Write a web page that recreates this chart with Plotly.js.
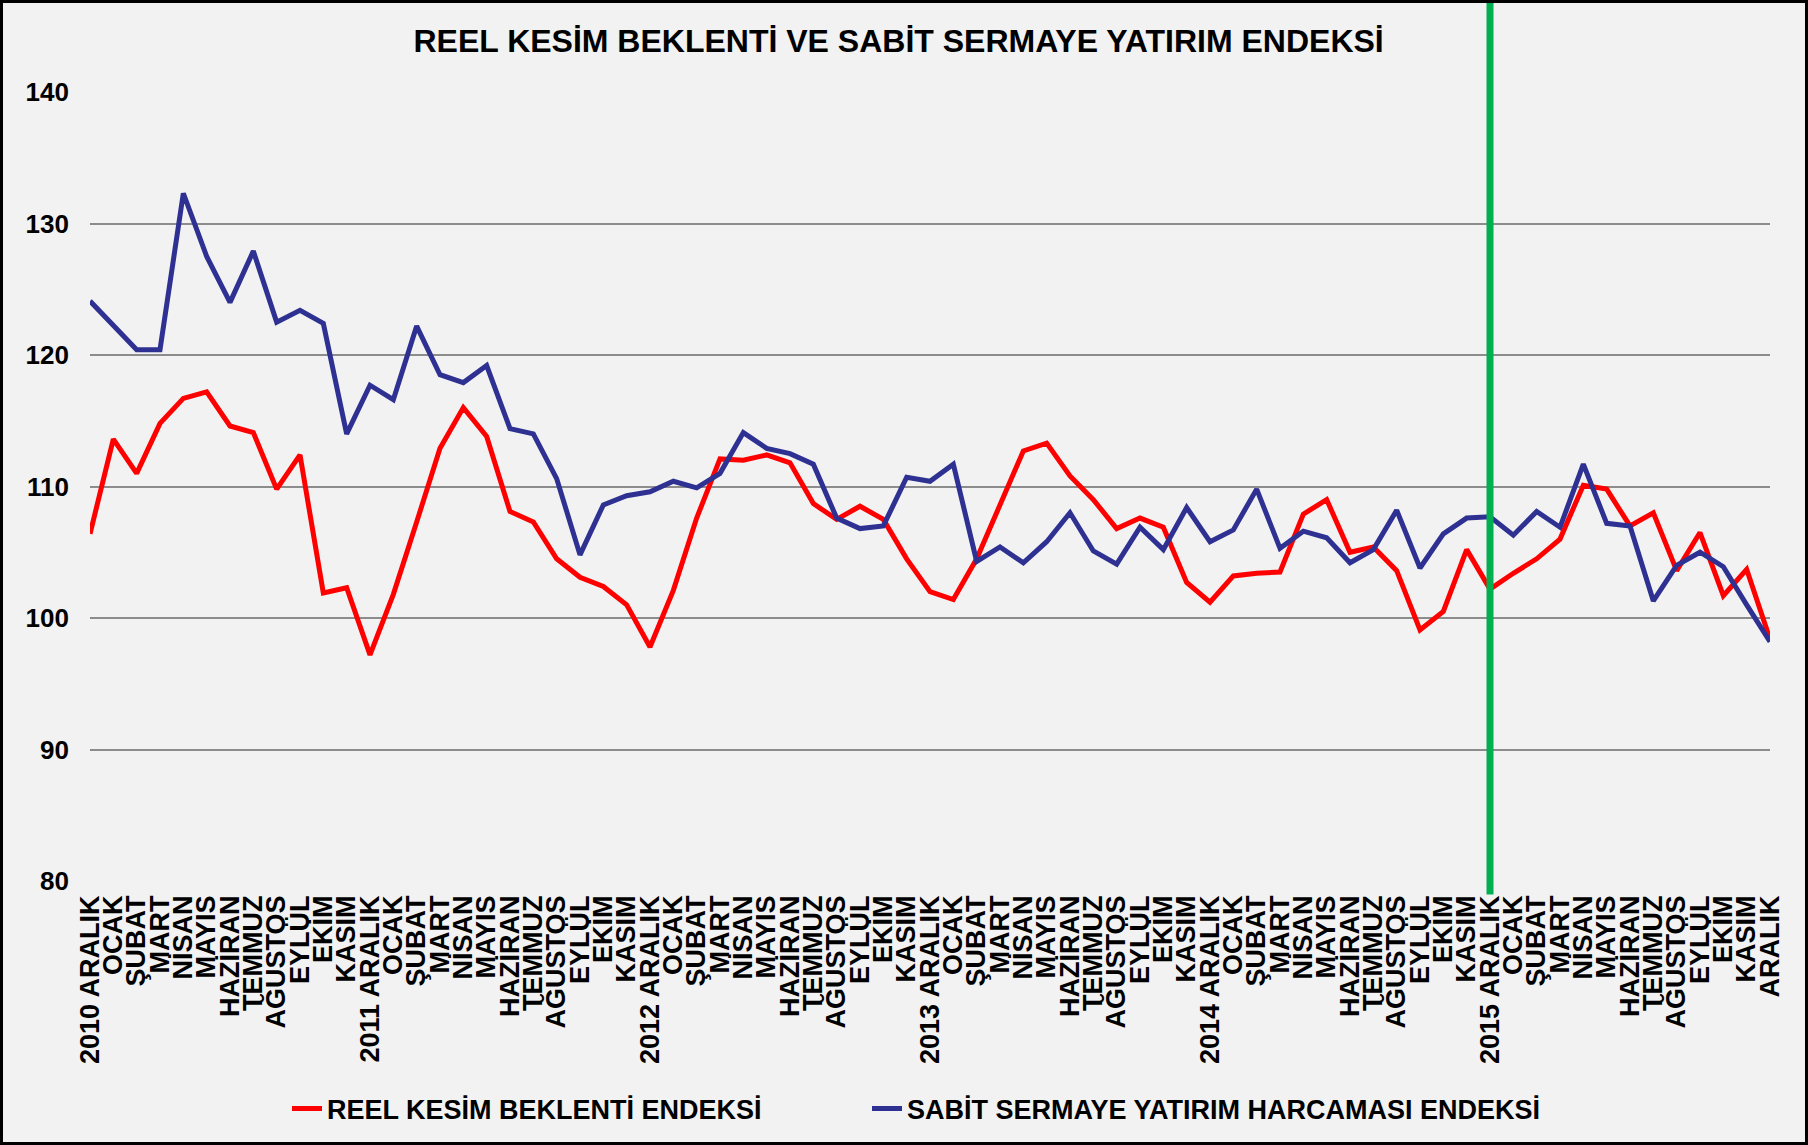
<!DOCTYPE html>
<html>
<head>
<meta charset="utf-8">
<script src="https://cdn.plot.ly/plotly-3.0.1.min.js"></script>
<style>
  html, body { margin: 0; padding: 0; background: #ffffff; }
  #wrap { width: 1808px; height: 1145px; box-sizing: border-box; border: 3px solid #000; background: #f2f2f2; }
  #chart { width: 1802px; height: 1139px; }
</style>
</head>
<body>
<div id="wrap"><div id="chart"></div></div>
<script>
// Tick labels (x axis), Dec 2010 .. Dec 2016
const tickLabels = [
  "2010 ARALIK","OCAK","ŞUBAT","MART","NİSAN","MAYIS","HAZİRAN","TEMMUZ","AĞUSTOS","EYLÜL","EKİM","KASIM",
  "2011 ARALIK","OCAK","ŞUBAT","MART","NİSAN","MAYIS","HAZİRAN","TEMMUZ","AĞUSTOS","EYLÜL","EKİM","KASIM",
  "2012 ARALIK","OCAK","ŞUBAT","MART","NİSAN","MAYIS","HAZİRAN","TEMMUZ","AĞUSTOS","EYLÜL","EKİM","KASIM",
  "2013 ARALIK","OCAK","ŞUBAT","MART","NİSAN","MAYIS","HAZİRAN","TEMMUZ","AĞUSTOS","EYLÜL","EKİM","KASIM",
  "2014 ARALIK","OCAK","ŞUBAT","MART","NİSAN","MAYIS","HAZİRAN","TEMMUZ","AĞUSTOS","EYLÜL","EKİM","KASIM",
  "2015 ARALIK","OCAK","ŞUBAT","MART","NİSAN","MAYIS","HAZİRAN","TEMMUZ","AĞUSTOS","EYLÜL","EKİM","KASIM",
  "ARALIK"
];

// REEL KESİM BEKLENTİ ENDEKSİ
const reelKesim = [
  106.4, 113.6, 111.0, 114.8, 116.7, 117.2, 114.6, 114.1, 109.8, 112.4, 101.9, 102.3,
  97.2, 101.8, 107.3, 112.9, 116.0, 113.8, 108.1, 107.3, 104.5, 103.1, 102.4, 101.0,
  97.8, 102.1, 107.6, 112.1, 112.0, 112.4, 111.8, 108.7, 107.5, 108.5, 107.5, 104.5,
  102.0, 101.4, 104.5, 108.6, 112.7, 113.3, 110.8, 109.0, 106.8, 107.6, 106.9, 102.7,
  101.2, 103.2, 103.4, 103.5, 107.9, 109.0, 105.0, 105.4, 103.6, 99.1, 100.5, 105.2,
  102.2, 103.4, 104.5, 106.0, 110.1, 109.8, 107.0, 108.0, 103.6, 106.5, 101.7, 103.7,
  98.4
];

// SABİT SERMAYE YATIRIM HARCAMASI ENDEKSİ
const sabitSermaye = [
  124.1, 122.3, 120.4, 120.4, 132.3, 127.5, 124.0, 127.9, 122.5, 123.4, 122.4, 114.0,
  117.7, 116.6, 122.2, 118.5, 117.9, 119.2, 114.4, 114.0, 110.6, 104.8, 108.6, 109.3,
  109.6, 110.4, 109.9, 111.0, 114.1, 112.9, 112.5, 111.7, 107.6, 106.8, 107.0, 110.7,
  110.4, 111.7, 104.3, 105.4, 104.2, 105.8, 108.0, 105.1, 104.1, 106.9, 105.2, 108.4,
  105.8, 106.7, 109.8, 105.3, 106.6, 106.1, 104.2, 105.2, 108.2, 103.8, 106.4, 107.6,
  107.7, 106.3, 108.1, 106.9, 111.7, 107.2, 107.0, 101.3, 104.0, 105.0, 103.9, 101.0,
  98.2
];

const seriesNames = ["REEL KESİM BEKLENTİ ENDEKSİ", "SABİT SERMAYE YATIRIM HARCAMASI ENDEKSİ"];
const markerIndex = 60; // 2015 ARALIK
const yTicks = [80, 90, 100, 110, 120, 130, 140];

const xIdx = tickLabels.map((_, i) => i);
const FONT = "Arial, 'Liberation Sans', sans-serif";

const traces = [
  { x: xIdx, y: reelKesim, name: "<b>" + seriesNames[0] + "</b>", type: "scatter", mode: "lines",
    line: { color: "#ff0000", width: 5 }, legend: "legend" },
  { x: xIdx, y: sabitSermaye, name: "<b>" + seriesNames[1] + "</b>", type: "scatter", mode: "lines",
    line: { color: "#2e3192", width: 5 }, legend: "legend2" }
];

const legendBase = {
  orientation: "h",
  xref: "container", xanchor: "left",
  yref: "container", y: 1 - (1109 - 3) / 1139, yanchor: "middle",
  font: { family: FONT, size: 27, color: "#000" },
  bgcolor: "rgba(0,0,0,0)"
};

const layout = {
  width: 1802, height: 1139,
  paper_bgcolor: "#f2f2f2", plot_bgcolor: "#f2f2f2",
  margin: { l: 87, r: 35, t: 89, b: 261 },
  font: { family: FONT, color: "#000" },
  title: {
    text: "<b>REEL KESİM BEKLENTİ VE SABİT SERMAYE YATIRIM ENDEKSİ</b>",
    font: { family: FONT, size: 32, color: "#000" },
    xref: "container", x: 0.497, xanchor: "center",
    yref: "container", y: 1 - 38 / 1139, yanchor: "middle"
  },
  xaxis: {
    range: [0, tickLabels.length - 1],
    tickmode: "array", tickvals: xIdx, ticktext: tickLabels.map(t => "<b>" + t + "</b>"),
    tickangle: -90, tickfont: { family: FONT, size: 27, color: "#000" },
    showgrid: false, zeroline: false, showline: false, ticks: "",
    ticklabelstandoff: 8
  },
  yaxis: {
    range: [80, 140],
    tickmode: "array", tickvals: yTicks, ticktext: yTicks.map(v => "<b>" + v + "</b>"),
    tickfont: { family: FONT, size: 26, color: "#000" },
    showgrid: true, gridcolor: "#8c8c8c", gridwidth: 2,
    zeroline: false, showline: false, ticks: "",
    ticklabelstandoff: 20
  },
  showlegend: true,
  legend: Object.assign({}, legendBase, { x: (287 - 3) / 1802 }),
  legend2: Object.assign({}, legendBase, { x: (867 - 3) / 1802 }),
  shapes: [{
    type: "line", xref: "x", yref: "paper",
    x0: markerIndex, x1: markerIndex, y0: -0.017, y1: 1.12,
    line: { color: "#00b050", width: 7 }, layer: "above"
  }],
  hovermode: false
};

Plotly.newPlot("chart", traces, layout, { staticPlot: true, displayModeBar: false });
</script>
</body>
</html>
